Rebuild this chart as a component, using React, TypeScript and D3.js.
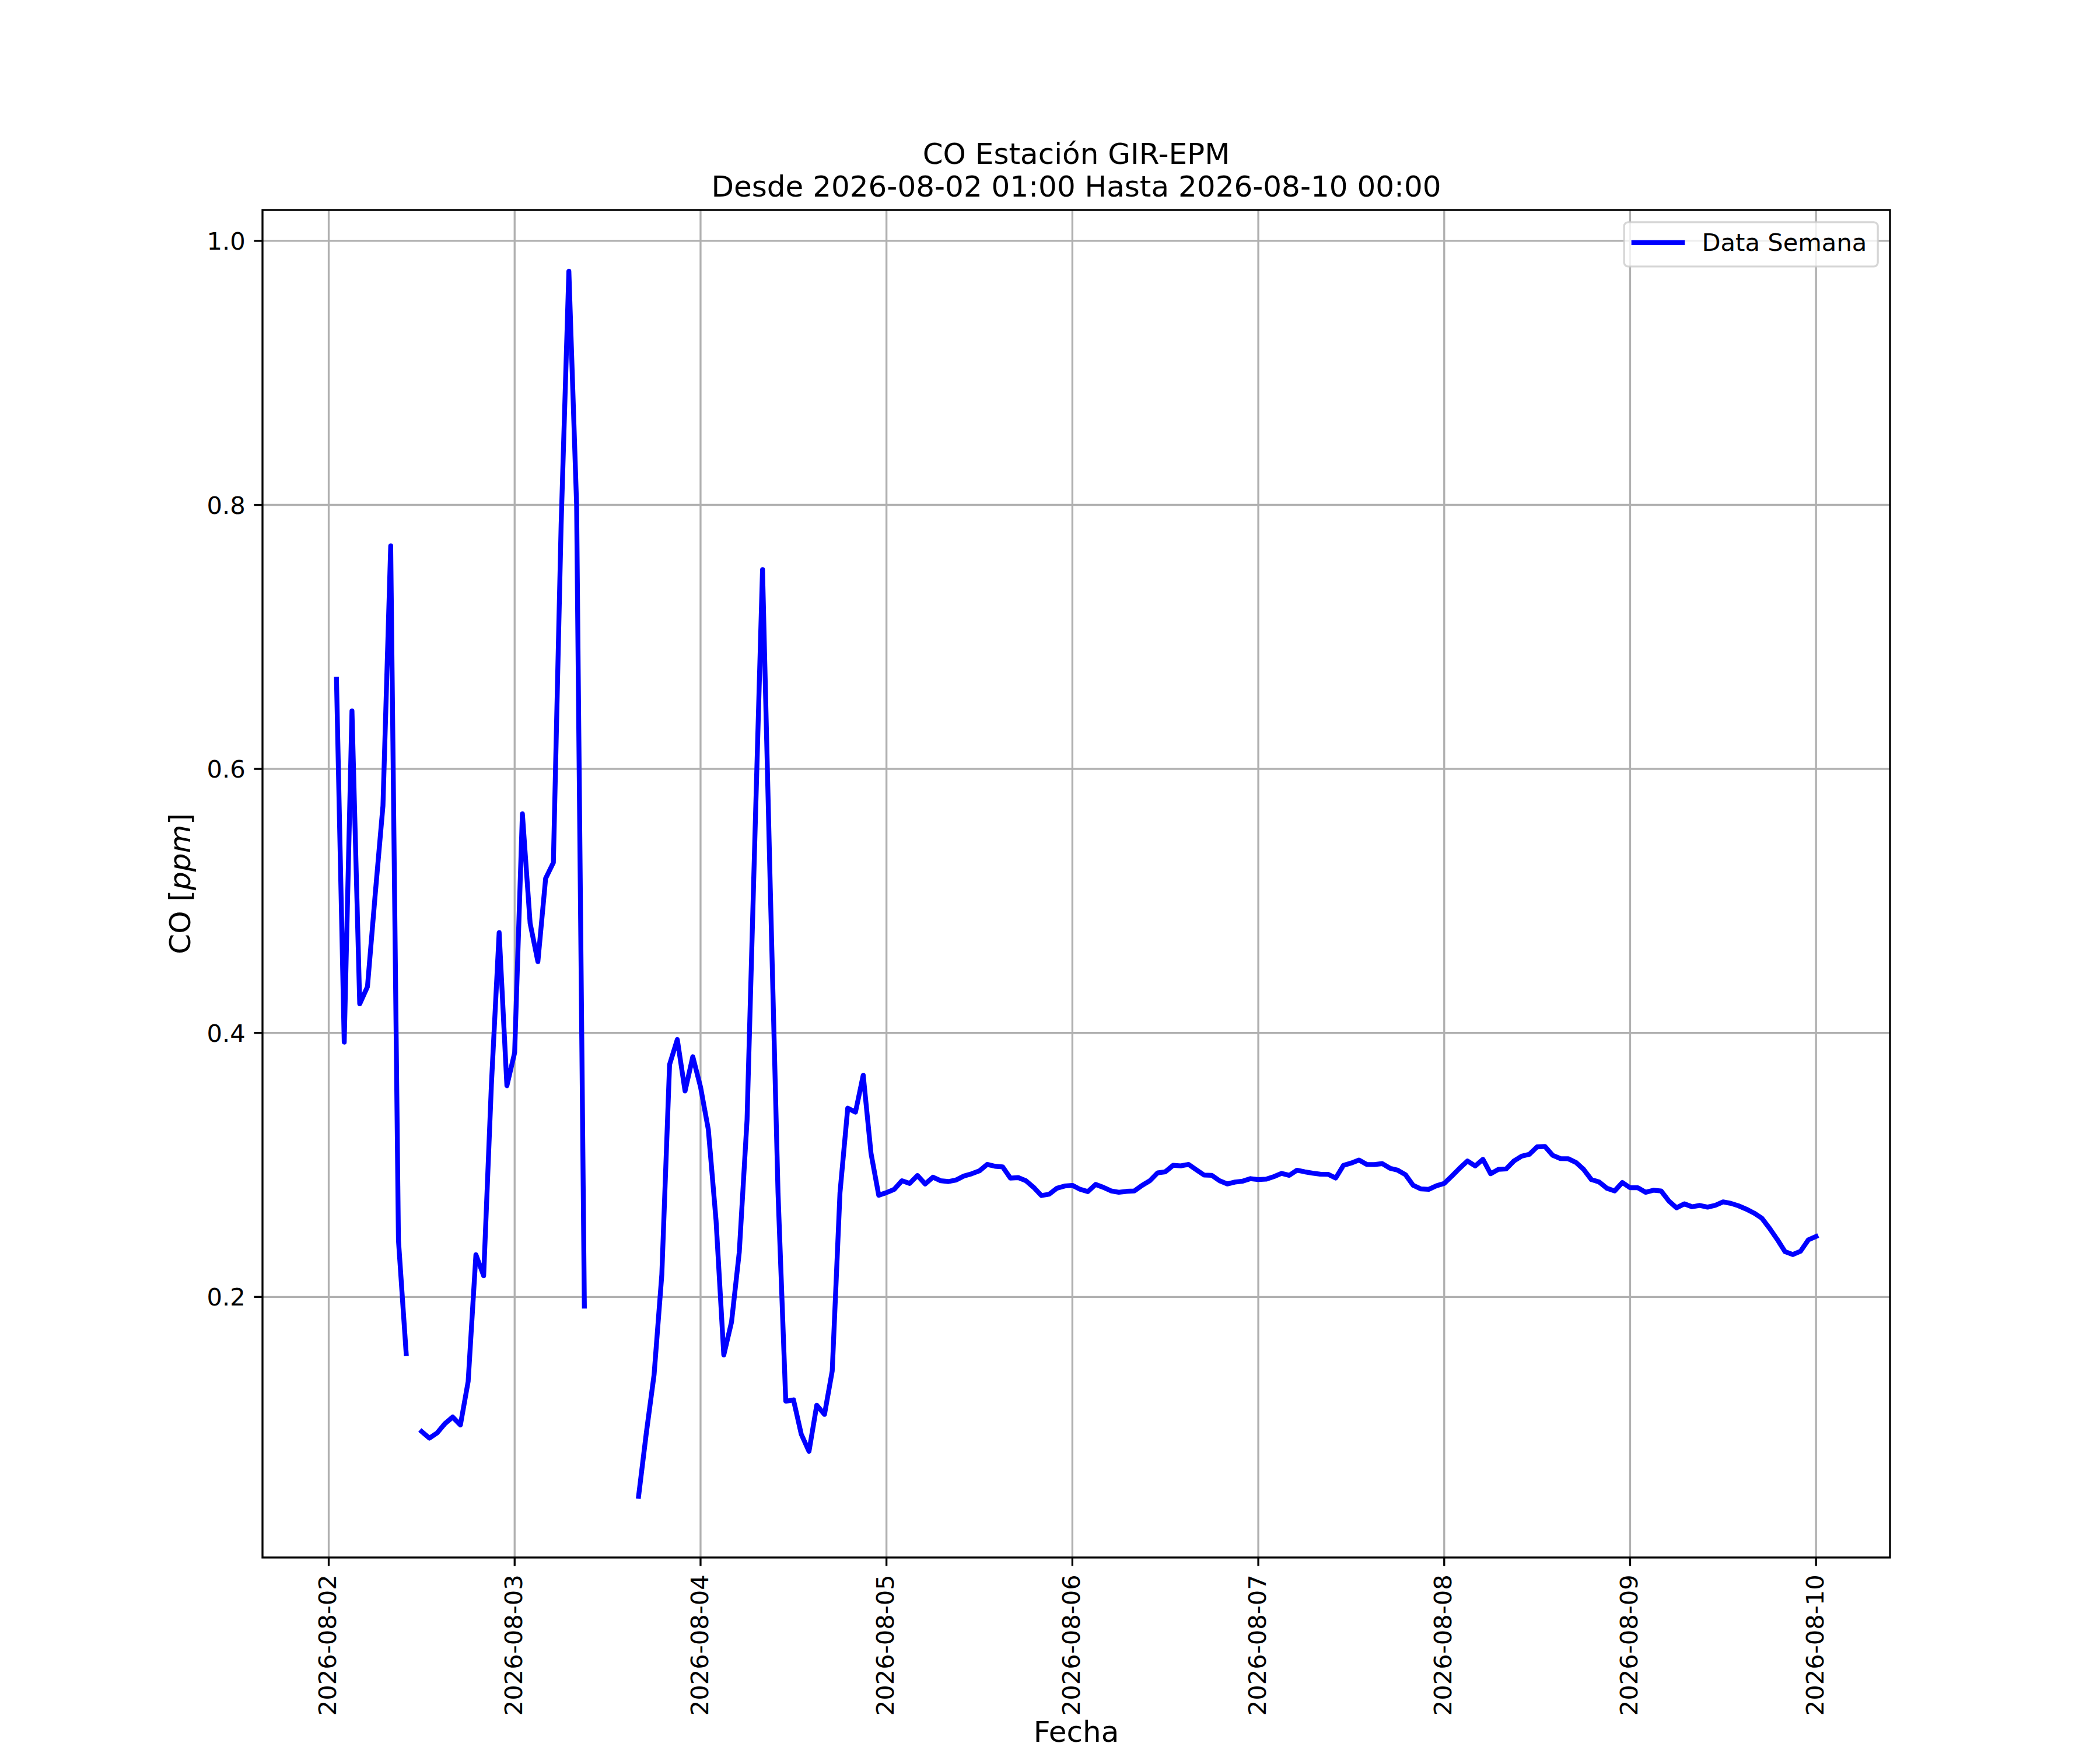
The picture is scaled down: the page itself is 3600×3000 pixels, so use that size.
import React from "react";
import * as d3 from "d3";

// CO readings (ppm), one value per hour, 01:00 .. 00:00 of the next day; null = no data
const day0802: (number | null)[] = [
  0.668, 0.393, 0.644, 0.422, 0.435, 0.505, 0.572, 0.769, 0.243, 0.157, null, 0.098,
  0.093, 0.097, 0.104, 0.109, 0.103, 0.136, 0.232, 0.216, 0.361, 0.476, 0.36, 0.385,
];
const day0803: (number | null)[] = [
  0.566, 0.483, 0.454, 0.517, 0.529, 0.785, 0.977, 0.8, 0.193, null, null, null,
  null, null, null, 0.049, 0.097, 0.141, 0.217, 0.376, 0.395, 0.356, 0.382, 0.359,
];
const day0804: (number | null)[] = [
  0.327, 0.258, 0.156, 0.181, 0.234, 0.334, 0.545, 0.751, 0.51, 0.279, 0.121, 0.122,
  0.096, 0.083, 0.118, 0.111, 0.144, 0.279, 0.343, 0.34, 0.368, 0.309, 0.277, 0.279,
];
const day0805: (number | null)[] = [
  0.2815, 0.288, 0.286, 0.292, 0.2856, 0.2907, 0.288, 0.2874, 0.2886, 0.2916, 0.2933, 0.2955,
  0.3004, 0.299, 0.2985, 0.29, 0.2904, 0.288, 0.283, 0.2768, 0.2778, 0.2823, 0.284, 0.2845,
];
const day0806: (number | null)[] = [
  0.2815, 0.2798, 0.2852, 0.283, 0.2803, 0.2793, 0.28, 0.2803, 0.2845, 0.288, 0.294, 0.2948,
  0.2997, 0.2993, 0.3004, 0.2963, 0.2923, 0.2921, 0.288, 0.2856, 0.287, 0.2877, 0.2896, 0.2889,
];
const day0807: (number | null)[] = [
  0.2892, 0.2911, 0.2936, 0.2921, 0.296, 0.2948, 0.2938, 0.293, 0.2929, 0.2901, 0.2997, 0.3014,
  0.3037, 0.3004, 0.3003, 0.301, 0.2975, 0.296, 0.2926, 0.2845, 0.2818, 0.2815, 0.2842, 0.286,
];
const day0808: (number | null)[] = [
  0.2916, 0.2975, 0.303, 0.2992, 0.3042, 0.2933, 0.2966, 0.297, 0.303, 0.3066, 0.3081, 0.3137,
  0.314, 0.3073, 0.3048, 0.3047, 0.3019, 0.2966, 0.2889, 0.2871, 0.2823, 0.2803, 0.2867, 0.2827,
];
const day0809: (number | null)[] = [
  0.2827, 0.2793, 0.2808, 0.2803, 0.2727, 0.2675, 0.2705, 0.2683, 0.2693, 0.268, 0.2694, 0.272,
  0.2709, 0.269, 0.2665, 0.2635, 0.2597, 0.252, 0.2435, 0.2343, 0.2321, 0.2346, 0.2432, 0.2458,
];

const yTicks = [0.2, 0.4, 0.6, 0.8, 1.0];
const titleLines = ["CO Estación GIR-EPM", "Desde 2026-08-02 01:00 Hasta 2026-08-10 00:00"];
const legendLabel = "Data Semana";

const START = new Date(2026, 7, 2, 1, 0, 0);

const W = 3600;
const H = 3000;
const M = { left: 450, right: 360, top: 360, bottom: 330 };
const PT = 300 / 72; // matplotlib points -> px at 300 dpi
const FONT = "DejaVu Sans";

interface Point {
  t: Date;
  v: number | null;
}

const points: Point[] = [
  ...day0802, ...day0803, ...day0804, ...day0805,
  ...day0806, ...day0807, ...day0808, ...day0809,
].map((v, i) => ({ t: d3.timeHour.offset(START, i), v }));

export default function App() {
  const plotR = W - M.right;
  const plotB = H - M.bottom;

  // 5% margins like matplotlib autoscale
  const [t0, t1] = d3.extent(points, (d) => +d.t) as [number, number];
  const tPad = (t1 - t0) * 0.05;
  const x = d3.scaleTime().domain([new Date(t0 - tPad), new Date(t1 + tPad)]).range([M.left, plotR]);

  const vals = points.filter((d) => d.v != null).map((d) => d.v as number);
  const [v0, v1] = d3.extent(vals) as [number, number];
  const vPad = (v1 - v0) * 0.05;
  const y = d3.scaleLinear().domain([v0 - vPad, v1 + vPad]).range([plotB, M.top]);

  const xTicks = d3.timeDay.range(d3.timeDay.ceil(x.domain()[0]), x.domain()[1]);
  const fmt = d3.timeFormat("%Y-%m-%d");

  const line = d3
    .line<Point>()
    .defined((d) => d.v != null)
    .x((d) => x(d.t))
    .y((d) => y(d.v as number));

  const gridW = 0.8 * PT;
  const tickLen = 3.5 * PT;
  const tickPad = 3.5 * PT;
  const fs = 10 * PT;
  const fsBig = 12 * PT;

  // legend box, anchored top-right
  const lgW = 435;
  const lgH = 76;
  const lgX = plotR - 0.5 * fs - lgW;
  const lgY = M.top + 0.5 * fs;

  return (
    <>
      <style>{"body{margin:0;background:#fff}"}</style>
      <svg width={W} height={H} style={{ display: "block", background: "#fff" }} fontFamily={FONT}>
        <rect x={0} y={0} width={W} height={H} fill="#fff" />

        {/* grid */}
        {xTicks.map((t) => (
          <line key={"gx" + fmt(t)} x1={x(t)} x2={x(t)} y1={M.top} y2={plotB} stroke="#b0b0b0" strokeWidth={gridW} />
        ))}
        {yTicks.map((v) => (
          <line key={"gy" + v} x1={M.left} x2={plotR} y1={y(v)} y2={y(v)} stroke="#b0b0b0" strokeWidth={gridW} />
        ))}

        {/* data */}
        <path
          d={line(points) ?? ""}
          fill="none"
          stroke="#0000ff"
          strokeWidth={2 * PT}
          strokeLinejoin="round"
          strokeLinecap="square"
        />

        {/* spines */}
        <rect
          x={M.left}
          y={M.top}
          width={plotR - M.left}
          height={plotB - M.top}
          fill="none"
          stroke="#000"
          strokeWidth={gridW}
        />

        {/* x ticks */}
        {xTicks.map((t) => (
          <g key={"tx" + fmt(t)}>
            <line x1={x(t)} x2={x(t)} y1={plotB} y2={plotB + tickLen} stroke="#000" strokeWidth={gridW} />
            <text
              transform={`translate(${x(t)},${plotB + tickLen + tickPad}) rotate(-90)`}
              textAnchor="end"
              dy={12.6}
              fontSize={fs}
              fill="#000"
            >
              {fmt(t)}
            </text>
          </g>
        ))}

        {/* y ticks */}
        {yTicks.map((v) => (
          <g key={"ty" + v}>
            <line x1={M.left - tickLen} x2={M.left} y1={y(v)} y2={y(v)} stroke="#000" strokeWidth={gridW} />
            <text x={M.left - tickLen - tickPad} y={y(v) + 15.2} textAnchor="end" fontSize={fs} fill="#000">
              {v.toFixed(1)}
            </text>
          </g>
        ))}

        {/* title */}
        <text x={(M.left + plotR) / 2} y={281} textAnchor="middle" fontSize={fsBig} fill="#000">
          {titleLines[0]}
        </text>
        <text x={(M.left + plotR) / 2} y={337} textAnchor="middle" fontSize={fsBig} fill="#000">
          {titleLines[1]}
        </text>

        {/* axis labels */}
        <text x={(M.left + plotR) / 2} y={2986} textAnchor="middle" fontSize={fsBig} fill="#000">
          Fecha
        </text>
        <text
          transform={`translate(326,${(M.top + plotB) / 2}) rotate(-90)`}
          textAnchor="middle"
          fontSize={fsBig}
          fill="#000"
        >
          CO [<tspan fontStyle="italic">ppm</tspan>]
        </text>

        {/* legend */}
        <g>
          <rect
            x={lgX}
            y={lgY}
            width={lgW}
            height={lgH}
            rx={7}
            fill="#fff"
            fillOpacity={0.8}
            stroke="#cccccc"
            strokeOpacity={0.8}
            strokeWidth={gridW}
          />
          <line
            x1={lgX + 0.4 * fs}
            x2={lgX + 0.4 * fs + 2 * fs}
            y1={lgY + 35}
            y2={lgY + 35}
            stroke="#0000ff"
            strokeWidth={2 * PT}
            strokeLinecap="square"
          />
          <text x={lgX + 0.4 * fs + 2.8 * fs} y={lgY + 49} fontSize={fs} fill="#000">
            {legendLabel}
          </text>
        </g>
      </svg>
    </>
  );
}
